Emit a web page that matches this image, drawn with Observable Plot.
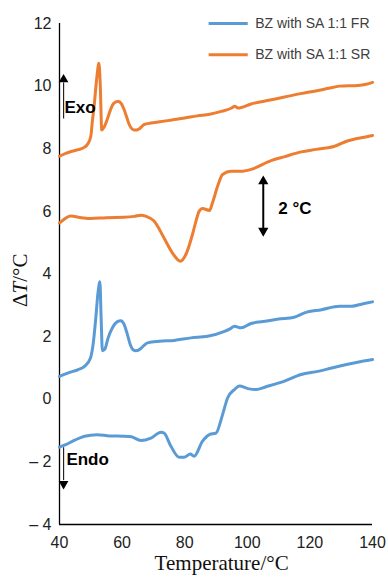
<!DOCTYPE html>
<html><head><meta charset="utf-8">
<script src="https://cdn.jsdelivr.net/npm/d3@7"></script>
<script src="https://cdn.jsdelivr.net/npm/@observablehq/plot@0.6"></script>
<style>body{margin:0;background:#fff}</style>
</head><body><div id="chart"></div>
<script>
// Series names
const seriesNames = ["BZ with SA 1:1 FR", "BZ with SA 1:1 SR"];
const xTicks = [40, 60, 80, 100, 120, 140];
const yTicks = [-4, -2, 0, 2, 4, 6, 8, 10, 12];

// SR (orange) upper curve
const srUpperT = [40, 42, 44, 46, 48, 49, 50, 50.5, 51, 51.5, 52, 52.6, 53, 53.5, 54.3, 55.3, 56.3, 57.3, 58.7, 59.7, 60.6, 61.5, 62.2, 63, 63.8, 64.6, 65.4, 66.2, 67, 69.2, 72, 76, 80, 84, 88, 92, 95, 96, 97, 101.2, 106, 111.9, 117, 122.6, 126, 129.5, 135.4, 138, 140];
const srUpperV = [7.76, 7.85, 7.92, 7.97, 8.05, 8.15, 8.4, 8.88, 9.3, 9.84, 10.35, 10.73, 10.1, 8.6, 8.7, 8.95, 9.25, 9.45, 9.52, 9.45, 9.26, 9.0, 8.79, 8.65, 8.6, 8.6, 8.63, 8.7, 8.77, 8.82, 8.86, 8.92, 8.98, 9.05, 9.1, 9.2, 9.3, 9.36, 9.3, 9.43, 9.53, 9.65, 9.76, 9.86, 9.93, 10.0, 10.02, 10.06, 10.12];

// SR (orange) lower curve
const srLowerT = [40, 41.5, 43.5, 47, 50, 55, 60.6, 64, 66, 67.5, 70.2, 73.4, 76.1, 78.6, 80.4, 82.5, 83.6, 84.6, 85.7, 87.9, 88.9, 90.5, 92.1, 94.8, 98, 101.2, 107.6, 112, 117.2, 122, 127.9, 131.7, 137.4, 140];
const srLowerV = [5.63, 5.75, 5.85, 5.8, 5.77, 5.8, 5.81, 5.84, 5.88, 5.85, 5.69, 5.15, 4.67, 4.41, 4.63, 5.27, 5.69, 6.0, 6.09, 6.03, 6.28, 6.8, 7.18, 7.28, 7.28, 7.34, 7.62, 7.75, 7.9, 7.98, 8.08, 8.24, 8.37, 8.42];

// FR (blue) upper curve
const frUpperT = [40, 43, 46, 48, 49.9, 50.8, 51.6, 52.3, 52.9, 53.3, 53.7, 54.5, 55.5, 57, 58.5, 59.6, 60.6, 61.6, 62.6, 63.5, 64.4, 66, 67, 68.1, 72, 76.6, 82, 87.3, 92.7, 94.5, 95.9, 98, 101.2, 105, 110, 115, 118.3, 123.7, 129.5, 133.3, 137, 140];
const frUpperV = [0.73, 0.85, 0.95, 1.05, 1.32, 1.8, 2.6, 3.4, 3.75, 2.6, 1.55, 1.6, 1.95, 2.3, 2.48, 2.51, 2.4, 2.1, 1.75, 1.58, 1.55, 1.62, 1.72, 1.8, 1.85, 1.88, 1.96, 2.01, 2.17, 2.25, 2.33, 2.28, 2.42, 2.48, 2.56, 2.62, 2.76, 2.86, 2.97, 2.97, 3.05, 3.11];

// FR (blue) lower curve
const frLowerT = [40, 42, 45, 48, 52, 56, 60.6, 63, 66, 69.2, 72.4, 73.4, 75.6, 78.2, 79.8, 81.8, 83, 85.7, 87.9, 90, 92.1, 93.7, 95.9, 97.5, 100.2, 102.8, 106, 111.9, 117.2, 122.6, 127, 131.7, 136, 140];
const frLowerV = [-1.53, -1.45, -1.3, -1.18, -1.13, -1.17, -1.18, -1.2, -1.32, -1.24, -1.05, -1.08, -1.5, -1.85, -1.85, -1.75, -1.82, -1.34, -1.13, -1.08, -0.49, 0.04, 0.31, 0.42, 0.34, 0.31, 0.4, 0.58, 0.79, 0.89, 1.0, 1.11, 1.2, 1.27];

const curves = [
  {id: "srUpper", series: seriesNames[1], T: srUpperT, V: srUpperV},
  {id: "srLower", series: seriesNames[1], T: srLowerT, V: srLowerV},
  {id: "frUpper", series: seriesNames[0], T: frUpperT, V: frUpperV},
  {id: "frLower", series: seriesNames[0], T: frLowerT, V: frLowerV}
];
const rows = curves.flatMap(c => c.T.map((t, i) => ({id: c.id, series: c.series, T: t, V: c.V[i]})));
const legendRows = [{series: seriesNames[0], v: 12}, {series: seriesNames[1], v: 11}];

const sans = "'Liberation Sans', Arial, sans-serif";
const serif = "'Liberation Serif', 'Times New Roman', serif";

const plot = Plot.plot({
  width: 388,
  height: 577,
  marginTop: 23,
  marginBottom: 53,
  marginLeft: 59,
  marginRight: 16,
  style: {fontFamily: sans, fontSize: "16px", color: "#222", background: "#fff"},
  x: {domain: [40, 140]},
  y: {domain: [-4, 12]},
  color: {domain: seriesNames, range: ["#5B9BD5", "#ED7D31"]},
  marks: [
    Plot.axisX({ticks: xTicks, tickSize: 0, tickPadding: 12, label: null, fontSize: 16}),
    Plot.axisY({ticks: yTicks, tickSize: 0, tickPadding: 8, label: null, fontSize: 16,
      tickFormat: d => d < 0 ? "\u2013 " + Math.abs(d) : String(d)}),
    Plot.ruleX([40], {stroke: "#000", strokeWidth: 1.3}),
    Plot.ruleY([-4], {stroke: "#000", strokeWidth: 1.3}),
    Plot.line(rows, {x: "T", y: "V", z: "id", stroke: "series", strokeWidth: 3, curve: "monotone-x"}),
    // legend
    Plot.ruleY(legendRows, {y: "v", x1: () => 87.8, x2: () => 100.3, stroke: "series", strokeWidth: 3}),
    Plot.text(legendRows, {y: "v", x: () => 102.5, text: "series", textAnchor: "start", fontSize: 14, fill: "#404040"}),
    // Exo / Endo arrows
    Plot.ruleX([0], {x: () => 41.3, y1: () => 8.95, y2: () => 10.1, stroke: "#222", strokeWidth: 1.2}),
    Plot.dot([0], {x: () => 41.3, y: () => 10.21, symbol: "triangle", r: 3.6, fill: "#000", stroke: null}),
    Plot.text(["Exo"], {x: () => 41.6, y: () => 9.3, textAnchor: "start", fontWeight: "bold", fontSize: 17, fill: "#000"}),
    Plot.ruleX([0], {x: () => 41.3, y1: () => -1.55, y2: () => -2.6, stroke: "#222", strokeWidth: 1.2}),
    Plot.dot([0], {x: () => 41.3, y: () => -2.70, symbol: "triangle", rotate: 180, r: 3.6, fill: "#000", stroke: null}),
    Plot.text(["Endo"], {x: () => 42.2, y: () => -1.92, textAnchor: "start", fontWeight: "bold", fontSize: 17, fill: "#000"}),
    // 2 °C scale bar
    Plot.ruleX([0], {x: () => 105.1, y1: () => 5.45, y2: () => 6.9, stroke: "#000", strokeWidth: 2}),
    Plot.dot([0], {x: () => 105.1, y: () => 6.96, symbol: "triangle", r: 3.8, fill: "#000", stroke: null}),
    Plot.dot([0], {x: () => 105.1, y: () => 5.38, symbol: "triangle", rotate: 180, r: 3.8, fill: "#000", stroke: null}),
    Plot.text(["2 °C"], {x: () => 109.9, y: () => 6.1, textAnchor: "start", fontWeight: "bold", fontSize: 17, fill: "#000"}),
    // axis titles
    Plot.text(["Temperature/°C"], {x: () => 91.8, y: () => -4, dy: 45, lineAnchor: "bottom", fontFamily: serif, fontSize: 21, fill: "#111"}),
    Plot.text(["ΔT/°C"], {x: () => 40, y: () => 3.8, dx: -39, rotate: -90, fontFamily: serif, fontSize: 21, fill: "#111", className: "ylab"})
  ]
});
document.getElementById("chart").appendChild(plot);
d3.select(plot).select(".ylab text").html('Δ<tspan font-style="italic">T</tspan>/°C');
</script>
</body></html>
